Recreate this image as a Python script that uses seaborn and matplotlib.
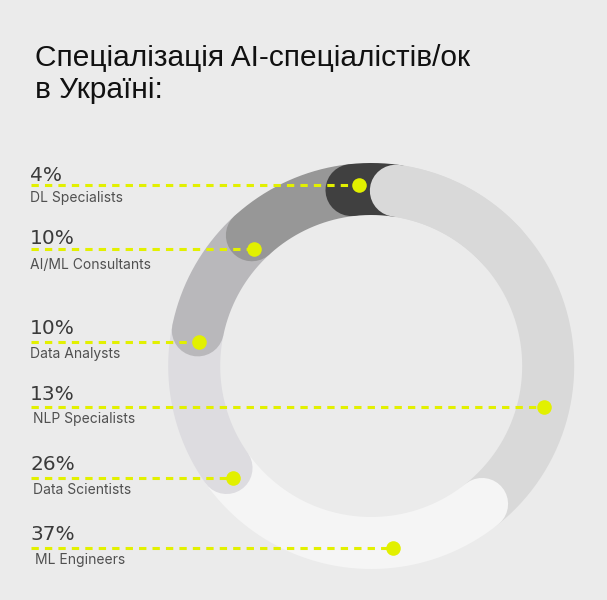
import numpy as np
import pandas as pd
import matplotlib
matplotlib.use("Agg")
import matplotlib.pyplot as plt
import seaborn as sns

# ---------------- data ----------------
title_lines = ["Спеціалізація AI-спеціалістів/ок", "в Україні:"]
segment_values = [4, 10, 10, 13, 26, 37]          # ring segments, counter-clockwise
segment_colors = ["#404040", "#979797", "#b9b8bb", "#dddce0", "#f5f5f5", "#d9d9d9"]
label_pcts = ["4%", "10%", "10%", "13%", "26%", "37%"]
label_names = ["DL Specialists", "AI/ML Consultants", "Data Analysts",
               "NLP Specialists", "Data Scientists", "ML Engineers"]
# where each label's dot sits on the ring (deg counter-clockwise from top, radius in px)
dot_angles = [3.95, 45.05, 81.97, 256.75, 128.9, 186.9]
dot_radii = [181.4, 165.2, 173.9, 177.5, 177.9, 183.6]

# ---------------- layout ----------------
W, H = 607, 600
BG = "#ebebeb"
ACCENT = "#e2f000"
CX, CY = 371.2, 366.0
R_MID = 177.0
RING_W = 52.0                      # px
START = -8.0                       # deg ccw from top
pct_gap = [4, 5, 8, 7, 8, 8]       # baseline of % above leader line
name_gap = [17, 19.5, 16.6, 16.6, 15.8, 15.8]
name_x = [30, 30, 30, 33, 33, 35]

sns.set_style("white")
plt.rcParams["font.family"] = ["Inter", "DejaVu Sans"]

fig = plt.figure(figsize=(W / 100, H / 100), dpi=100)
fig.patch.set_facecolor(BG)
ax = fig.add_axes([0, 0, 1, 1])
ax.set_facecolor(BG)

lw_pt = RING_W * 72 / 100


def arc_df(a0, a1, r=R_MID, n=240):
    a = np.deg2rad(np.linspace(a0, a1, n))
    return pd.DataFrame({"x": CX - r * np.sin(a), "y": CY - r * np.cos(a)})


bounds = START + np.concatenate([[0], np.cumsum(segment_values)]) / sum(segment_values) * 360
arcs = [(bounds[i], bounds[i + 1], segment_colors[i]) for i in range(len(segment_values))]

# draw last segment first so every segment's ccw rounded end overlaps the next one
for a0, a1, col in reversed(arcs):
    sns.lineplot(data=arc_df(a0, a1), x="x", y="y", sort=False, estimator=None,
                 color=col, linewidth=lw_pt, solid_capstyle="round", ax=ax)
# the last segment's rounded end also covers the start of the first one
a0, a1, col = arcs[-1]
sns.lineplot(data=arc_df(a1 - 40, a1), x="x", y="y", sort=False, estimator=None,
             color=col, linewidth=lw_pt, solid_capstyle="round", ax=ax)

# leader lines, dots, labels
dots = pd.DataFrame({
    "x": [CX - r * np.sin(np.deg2rad(a)) for a, r in zip(dot_angles, dot_radii)],
    "y": [CY - r * np.cos(np.deg2rad(a)) for a, r in zip(dot_angles, dot_radii)],
})
for i, (dx, dy) in enumerate(zip(dots["x"], dots["y"])):
    ax.plot([31, dx], [dy, dy], color=ACCENT, linewidth=2.2,
            linestyle=(0, (2.4, 2.0)), solid_capstyle="butt", zorder=5)
    ax.text(30, dy - pct_gap[i], label_pcts[i], fontsize=14.5, color="#3a3a3a",
            family=["DejaVu Sans"], va="baseline", ha="left", zorder=6)
    ax.text(name_x[i], dy + name_gap[i], label_names[i], fontsize=10, color="#505050",
            va="baseline", ha="left", zorder=6)

sns.scatterplot(data=dots, x="x", y="y", s=110, color=ACCENT, linewidth=0,
                zorder=7, ax=ax, legend=False)

# title
for k, yb in enumerate([66.5, 98.5]):
    ax.text(35, yb, title_lines[k], fontsize=21.5, color="#111111",
            family=["Liberation Sans", "DejaVu Sans"], va="baseline", ha="left")

ax.set_xlim(0, W)
ax.set_ylim(H, 0)
ax.set_aspect("equal")
ax.axis("off")

fig.savefig("out.png", dpi=100, facecolor=BG)
